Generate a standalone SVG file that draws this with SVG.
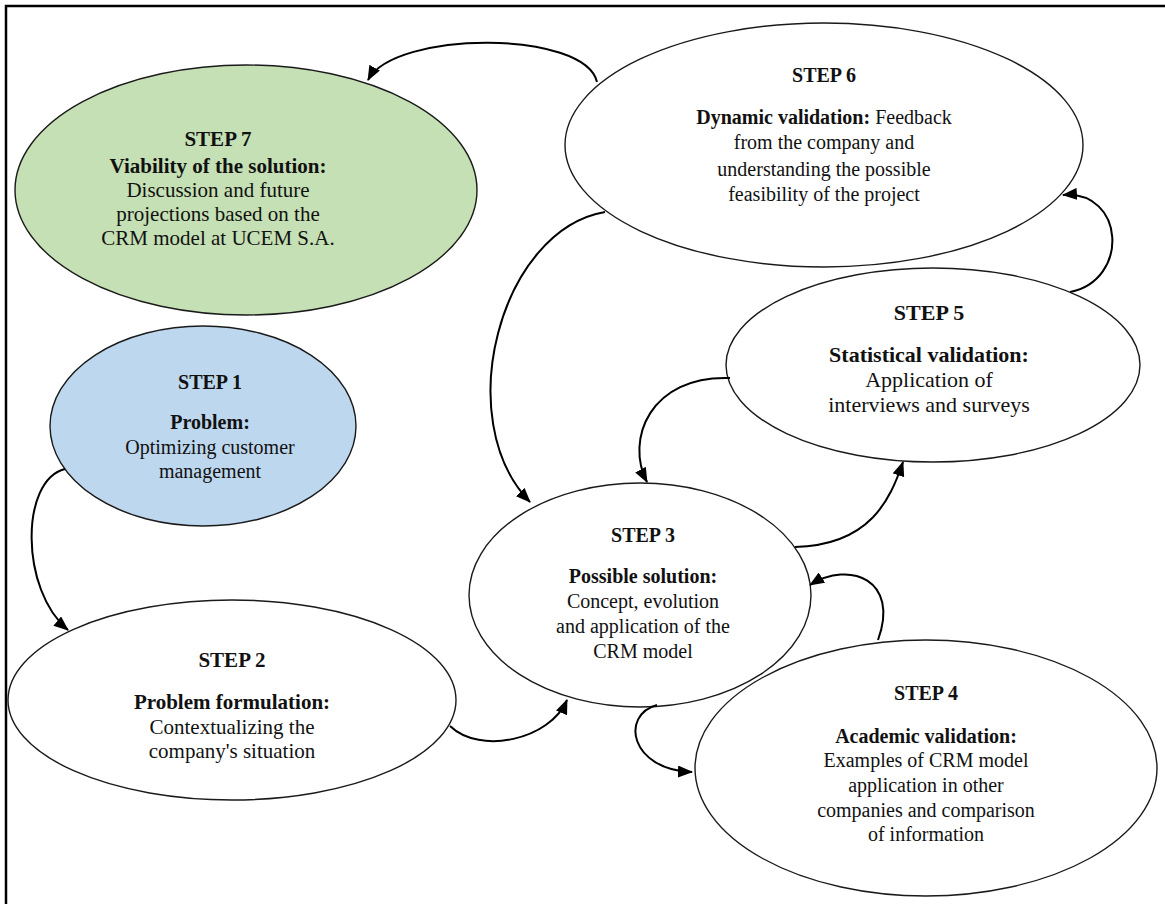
<svg xmlns="http://www.w3.org/2000/svg" width="1165" height="904" viewBox="0 0 1165 904">
<defs>
<marker id="arr" markerUnits="userSpaceOnUse" markerWidth="15" markerHeight="12" refX="14" refY="6" orient="auto">
<path d="M0,0 L15,6 L0,12 z" fill="#000"/>
</marker>
<style>
.node{stroke:#1a1a1a;stroke-width:1.4}
.w{fill:#fff}
.g{fill:#c5e0b4}
.b{fill:#bdd7ee}
text{font-family:"Liberation Serif","Times New Roman",serif;font-size:20px;fill:#111;text-anchor:middle}
.t{font-weight:bold}
.f21 text{font-size:21px}
.f22 text{font-size:22px}
.con{fill:none;stroke:#000;stroke-width:2;marker-end:url(#arr)}
</style>
</defs>
<rect width="1165" height="904" fill="#fff"/>
<path d="M6,904 L6,6 L1165,6" fill="none" stroke="#000" stroke-width="2.5"/>

<g id="step7" class="f21">
<ellipse class="node g" cx="246" cy="190" rx="231" ry="125"/>
<text class="t" x="218" y="146">STEP 7</text>
<text class="t" x="218" y="173">Viability of the solution:</text>
<text x="218" y="197">Discussion and future</text>
<text x="218" y="221">projections based on the</text>
<text x="218" y="245">CRM model at UCEM S.A.</text>
</g>

<g id="step6">
<ellipse class="node w" cx="824" cy="145" rx="259" ry="122"/>
<text class="t" x="824" y="82">STEP 6</text>
<text x="824" y="124"><tspan class="t">Dynamic validation:</tspan> Feedback</text>
<text x="824" y="149">from the company and</text>
<text x="824" y="176">understanding the possible</text>
<text x="824" y="201">feasibility of the project</text>
</g>

<g id="step5" class="f22">
<ellipse class="node w" cx="933" cy="365" rx="207" ry="97"/>
<text class="t" x="929" y="320">STEP 5</text>
<text class="t" x="929" y="362">Statistical validation:</text>
<text x="929" y="387">Application of</text>
<text x="929" y="412">interviews and surveys</text>
</g>

<g id="step1">
<ellipse class="node b" cx="203" cy="426" rx="153" ry="100"/>
<text class="t" x="210" y="389">STEP 1</text>
<text class="t" x="210" y="429">Problem:</text>
<text x="210" y="454">Optimizing customer</text>
<text x="210" y="478">management</text>
</g>

<g id="step2" class="f21">
<ellipse class="node w" cx="232" cy="700" rx="224" ry="100"/>
<text class="t" x="232" y="667">STEP 2</text>
<text class="t" x="232" y="709">Problem formulation:</text>
<text x="232" y="734">Contextualizing the</text>
<text x="232" y="758">company's situation</text>
</g>

<g id="step3">
<ellipse class="node w" cx="640" cy="595" rx="171" ry="112"/>
<text class="t" x="643" y="542">STEP 3</text>
<text class="t" x="643" y="583">Possible solution:</text>
<text x="643" y="608">Concept, evolution</text>
<text x="643" y="633">and application of the</text>
<text x="643" y="658">CRM model</text>
</g>

<g id="step4">
<ellipse class="node w" cx="926" cy="768" rx="231" ry="128"/>
<text class="t" x="926" y="700">STEP 4</text>
<text class="t" x="926" y="743">Academic validation:</text>
<text x="926" y="767">Examples of CRM model</text>
<text x="926" y="792">application in other</text>
<text x="926" y="817">companies and comparison</text>
<text x="926" y="841">of information</text>
</g>

<g id="connectors">
<path class="con" d="M597,82 C585,30 395,30 368,80"/>
<path class="con" d="M605,212 C500,230 450,420 530,502"/>
<path class="con" d="M1070,292 C1130,280 1125,190 1063,195"/>
<path class="con" d="M730,378 C650,375 625,440 647,482"/>
<path class="con" d="M795,547 C870,545 890,500 903,462"/>
<path class="con" d="M65,469 C20,480 20,590 68,630"/>
<path class="con" d="M450,726 C480,755 550,740 567,700"/>
<path class="con" d="M657,705 C620,715 630,770 692,772"/>
<path class="con" d="M878,640 C900,580 850,560 810,585"/>
</g>
</svg>
